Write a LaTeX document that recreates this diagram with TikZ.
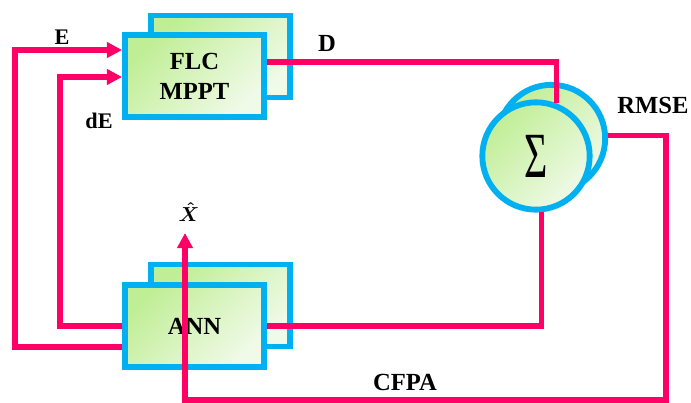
\documentclass[tikz,border=0pt]{standalone}
\usepackage{fontspec}
\usepackage{graphicx}
\setmainfont{Liberation Serif}
\usetikzlibrary{arrows.meta, calc, positioning}
\definecolor{wire}{HTML}{FF0066}
\definecolor{rim}{HTML}{00B0F0}
\definecolor{leafhi}{HTML}{C0EE96}
\definecolor{leaflo}{HTML}{F0FAE8}
\tikzset{
  >={Triangle[length=13pt, width=13pt]},
  unit/.style={draw=rim, line width=5pt, top color=leafhi, bottom color=leaflo,
               shading angle=45, minimum width=4.17cm, minimum height=2.46cm,
               align=center, inner sep=0pt, font=\fontsize{21}{25.5}\selectfont\bfseries},
  ring/.style={unit, circle, minimum size=3.22cm},
  sig/.style={draw=wire, line width=4.4pt},
  lbl/.style={font=\fontsize{21}{24}\selectfont\bfseries, inner sep=0pt},
  slbl/.style={lbl, font=\fontsize{19}{22}\selectfont\bfseries},
}

\begin{document}
\begin{tikzpicture}[x=0.03cm, y=-0.03cm]
  \useasboundingbox (0,0) rectangle (691,403);
  % blocks (back copy first)
  \node[unit] (flcb) at (220.5,56.5) {};
  \node[unit] (flc) at (194.5,76) {FLC\\MPPT};
  \node[unit] (annb) at (220.5,305.5) {};
  \node[unit] (ann) at (194.5,326) {ANN};
  \node[ring] (sumb) at (551.5,138.5) {};
  \node[ring, font=\fontsize{55}{55}\selectfont] (sum) at (536,156)
    {\raisebox{-2pt}{\scalebox{0.62}[1]{Σ}}};
  \coordinate (ein) at ($(flc.west)+(0,-26)$);
  \coordinate (dein) at ($(flc.west)+(0,1)$);
  \coordinate (xtip) at (185,233);
  % feedback to controller
  \draw[sig, ->] ($(ann.west)+(0,21)$) -- (15,347) |- (ein);
  \draw[sig, ->] (ann.west) -- (60,326) |- (dein);
  % duty cycle and error paths
  \draw[sig] ($(flc.east)+(0,-14)$) -| (sum.69);
  \draw[sig] (sum.-84) |- (ann.east);
  \draw[sig, ->] ($(sumb.east)+(0,-3)$) -- (666,135.5) |- (xtip |- 0,400) -- (xtip);
  % labels
  \node[slbl] (le) at (62,37) {E};
  \node[slbl] (lde) at (99,121) {dE};
  \node[lbl] (ld) at (327,43) {D};
  \node[lbl] (lrmse) at (653,105) {RMSE};
  \node[lbl] (lcfpa) at (405,382) {CFPA};
  \node[inner sep=0pt, font=\fontsize{18}{18}\selectfont\boldmath] (lx) at (189,212) {$\hat{X}$};
\end{tikzpicture}
\end{document}
